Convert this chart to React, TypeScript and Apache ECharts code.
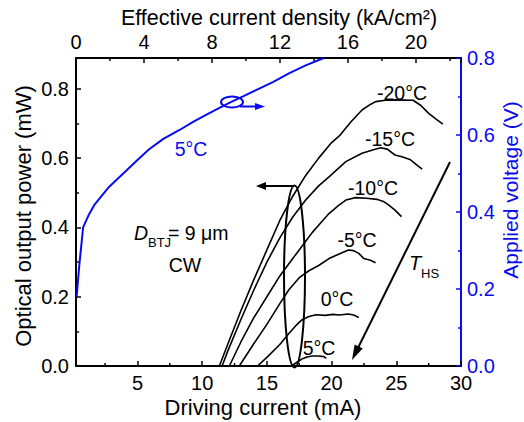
import React, { useEffect, useRef } from "react";
import * as echarts from "echarts";

const FONT = "'Liberation Sans', Arial, Helvetica, sans-serif";
const BLUE = "#0a0af0";

// bottom axis (driving current, mA)
const currentMin = 0.25;
const currentMax = 30;
const currentMinorTicks = [2.5, 7.5, 12.5, 17.5, 22.5, 27.5];

// applied voltage at 5°C (mA, V)
const voltage5C: [number, number][] = [
  [0.3, 0.18], [0.5, 0.26], [0.8, 0.36], [1.2, 0.39], [1.7, 0.42], [2.8, 0.465],
  [3.9, 0.5], [5.0, 0.535], [5.9, 0.563], [7.0, 0.59], [8.25, 0.613], [9.3, 0.634],
  [10.3, 0.652], [11.3, 0.67], [12.25, 0.686], [13.2, 0.701], [14.2, 0.717],
  [15.5, 0.738], [16.7, 0.76], [18.0, 0.781], [19.4, 0.8],
];

// optical output power (mA, mW)
const powerM20: [number, number][] = [
  [0.25, 0], [11.33, 0], [12, 0.065], [13, 0.16], [14, 0.25], [15, 0.335], [16, 0.42],
  [17, 0.49], [18, 0.55], [19, 0.6], [20, 0.645], [20.6, 0.664], [21.5, 0.705],
  [22.35, 0.739], [23, 0.755], [23.4, 0.763], [24.15, 0.767], [25, 0.768], [26.3, 0.767],
  [26.9, 0.752], [27.5, 0.729], [28.1, 0.712], [28.6, 0.698],
];
const powerM15: [number, number][] = [
  [0.25, 0], [11.54, 0], [12, 0.045], [13, 0.135], [14, 0.22], [15, 0.3], [16, 0.37],
  [17, 0.43], [18, 0.479], [19, 0.52], [19.8, 0.546], [21.1, 0.59], [22.35, 0.614],
  [23.3, 0.625], [23.8, 0.63], [24.3, 0.626], [24.9, 0.609], [25.5, 0.603], [26.1, 0.595],
  [26.6, 0.58], [27.0, 0.568],
];
const powerM10: [number, number][] = [
  [0.25, 0], [12.1, 0], [13, 0.07], [14, 0.14], [15, 0.2], [16, 0.26], [17, 0.31],
  [18, 0.36], [18.5, 0.385], [19.2, 0.415], [19.8, 0.44], [20.5, 0.462], [21.1, 0.479],
  [21.85, 0.486], [22.7, 0.484], [23.5, 0.481], [24.0, 0.475], [24.4, 0.465],
  [24.9, 0.45], [25.4, 0.431],
];
const powerM5: [number, number][] = [
  [0.25, 0], [12.87, 0], [14, 0.065], [15, 0.12], [16, 0.18], [16.7, 0.22], [17.5, 0.255],
  [18.25, 0.275], [19, 0.29], [19.8, 0.31], [20.5, 0.322], [21.3, 0.335], [21.7, 0.333],
  [22.1, 0.325], [22.5, 0.31], [23.0, 0.305], [23.4, 0.298],
];
const power0: [number, number][] = [
  [0.25, 0], [14.28, 0], [15, 0.025], [16, 0.062], [16.7, 0.094], [17.2, 0.115],
  [17.7, 0.133], [18.2, 0.142], [18.8, 0.148], [19.5, 0.146], [20.1, 0.149],
  [20.6, 0.147], [21.3, 0.15], [21.7, 0.147], [22.1, 0.14],
];
const powerP5: [number, number][] = [
  [0.25, 0], [16.9, 0], [17.3, 0.01], [17.7, 0.02], [18.1, 0.026], [18.5, 0.029],
  [19.0, 0.029], [19.4, 0.027], [19.6, 0.022],
];

const powerSeries = [powerM20, powerM15, powerM10, powerM5, power0, powerP5];
const curveLabels = ["-20°C", "-15°C", "-10°C", "-5°C", "0°C", "5°C"];
const curveLabelPos: [number, number][] = [
  [402, 93], [390, 139], [373, 188], [357, 240], [337, 299], [319, 348],
];

// layout of the plotting area (px)
const GRID = { left: 76, right: 63, top: 58, bottom: 56 };
const W = 524, H = 422;

function arrow(x1: number, y1: number, x2: number, y2: number, color: string, w: number, headLen: number, headW: number) {
  const dx = x2 - x1, dy = y2 - y1;
  const L = Math.hypot(dx, dy);
  const ux = dx / L, uy = dy / L;
  const bx = x2 - ux * headLen, by = y2 - uy * headLen;
  const nx = -uy, ny = ux;
  return [
    { type: "line", z: 100, shape: { x1, y1, x2: bx + ux * 1, y2: by + uy * 1 }, style: { stroke: color, lineWidth: w } },
    {
      type: "polygon", z: 100,
      shape: { points: [[x2, y2], [bx + (nx * headW) / 2, by + (ny * headW) / 2], [bx - (nx * headW) / 2, by - (ny * headW) / 2]] },
      style: { fill: color },
    },
  ];
}

export default function App() {
  const ref = useRef<HTMLDivElement>(null);
  useEffect(() => {
    document.body.style.margin = "0";
    const chart = echarts.init(ref.current!, null, { renderer: "svg" });
    const tickLabel = { fontSize: 20, color: "#000", fontFamily: FONT };
    const blackLine = { show: true, onZero: false, lineStyle: { color: "#000", width: 2 } };

    const plotW = W - GRID.left - GRID.right;
    const bottomY = H - GRID.bottom;
    const xPx = (v: number) => GRID.left + ((v - currentMin) / (currentMax - currentMin)) * plotW;
    const tickLine = (x: number, len: number) => ({
      type: "line", z: 100, shape: { x1: x, y1: bottomY, x2: x, y2: bottomY - len }, style: { stroke: "#000", lineWidth: 1.5 },
    });
    const txt = (text: string, x: number, y: number, opts: any = {}) => ({
      type: "text", z: 100, x, y,
      style: { text, fill: "#000", fontSize: 19.5, fontFamily: FONT, align: "center", verticalAlign: "middle", ...opts },
    });
    const rtxt = (text: string, x: number, y: number, opts: any = {}) => ({
      ...txt(text, x, y, opts), rotation: Math.PI / 2,
    });

    const graphic: any[] = [
      ...currentMinorTicks.map((v) => tickLine(xPx(v), 3)),
      // axis names
      txt("Driving current (mA)", 263, 407, { fontSize: 22 }),
      txt("Effective current density (kA/cm²)", 279, 18, { fontSize: 21.5 }),
      rtxt("Optical output power (mW)", 23, 216, { fontSize: 22 }),
      rtxt("Applied voltage (V)", 510, 190, { fontSize: 21, fill: BLUE }),
      // annotations
      ...curveLabels.map((t, i) => txt(t, curveLabelPos[i][0], curveLabelPos[i][1])),
      txt("5°C", 191, 149, { fill: BLUE }),
      txt("D", 134, 233, { align: "left", fontStyle: "italic" }),
      txt("BTJ", 148, 242, { align: "left", fontSize: 13 }),
      txt("= 9 μm", 168, 233, { align: "left" }),
      txt("CW", 185, 265),
      txt("T", 409, 263, { align: "left", fontStyle: "italic", fontSize: 20 }),
      txt("HS", 421, 273, { align: "left", fontSize: 13 }),
      // blue ellipse + arrow (voltage -> right axis)
      { type: "ellipse", z: 100, shape: { cx: 232, cy: 102, rx: 11, ry: 5.5 }, style: { fill: "none", stroke: BLUE, lineWidth: 2 } },
      ...arrow(240, 106.5, 265, 106.5, BLUE, 2, 10, 7),
      // black ellipse + arrow (power -> left axis)
      { type: "ellipse", z: 100, shape: { cx: 294.5, cy: 276.5, rx: 10.5, ry: 91 }, style: { fill: "none", stroke: "#000", lineWidth: 2 } },
      ...arrow(294, 186, 256, 186, "#000", 2, 10, 8),
      // heat-sink temperature arrow
      ...arrow(450, 162, 352, 360, "#000", 2, 15, 9),
    ];

    const option: any = {
      animation: false,
      grid: { ...GRID, containLabel: false, outerBoundsMode: "none" },
      xAxis: [
        {
          type: "value", position: "bottom", min: currentMin, max: currentMax, splitNumber: 6,
          axisLine: blackLine,
          axisTick: { show: true, inside: true, length: 5, lineStyle: { color: "#000", width: 1.5 } },
          axisLabel: { ...tickLabel, margin: 7, showMinLabel: false, showMaxLabel: true, hideOverlap: false },
          splitLine: { show: false },
        },
        {
          type: "value", position: "top", min: 0, max: 22.65, interval: 4,
          axisLine: blackLine,
          axisTick: { show: true, inside: true, length: 5, lineStyle: { color: "#000", width: 1.5 } },
          minorTick: { show: true, splitNumber: 2, length: 3, lineStyle: { color: "#000", width: 1.5 } },
          axisLabel: { ...tickLabel, margin: 6, showMaxLabel: false },
          splitLine: { show: false },
          minorSplitLine: { show: false },
        },
      ],
      yAxis: [
        {
          type: "value", position: "left", min: 0, max: 0.889, interval: 0.2,
          axisLine: blackLine,
          axisTick: { show: true, inside: true, length: 5, lineStyle: { color: "#000", width: 1.5 } },
          minorTick: { show: true, splitNumber: 2, length: 3, lineStyle: { color: "#000", width: 1.5 } },
          axisLabel: { ...tickLabel, margin: 7, showMaxLabel: false, formatter: (v: number) => v.toFixed(1) },
          splitLine: { show: false },
          minorSplitLine: { show: false },
        },
        {
          type: "value", position: "right", min: 0, max: 0.8, interval: 0.2,
          axisLine: { show: true, onZero: false, lineStyle: { color: BLUE, width: 2 } },
          axisTick: { show: true, inside: true, length: 5, lineStyle: { color: BLUE, width: 1.5 } },
          minorTick: { show: true, splitNumber: 2, length: 3, lineStyle: { color: BLUE, width: 1.5 } },
          axisLabel: { ...tickLabel, color: BLUE, margin: 6, formatter: (v: number) => v.toFixed(1) },
          splitLine: { show: false },
          minorSplitLine: { show: false },
        },
      ],
      graphic,
      series: [
        ...powerSeries.map((d, i) => ({
          type: "line", name: curveLabels[i], xAxisIndex: 0, yAxisIndex: 0, data: d,
          symbol: "none", lineStyle: { color: "#000", width: 1.6 }, z: 3,
        })),
        {
          type: "line", name: "V 5°C", xAxisIndex: 0, yAxisIndex: 1, data: voltage5C,
          symbol: "none", lineStyle: { color: BLUE, width: 2 }, z: 4,
        },
      ],
    };
    chart.setOption(option);
    return () => chart.dispose();
  }, []);
  return <div ref={ref} style={{ width: W, height: H }} />;
}
